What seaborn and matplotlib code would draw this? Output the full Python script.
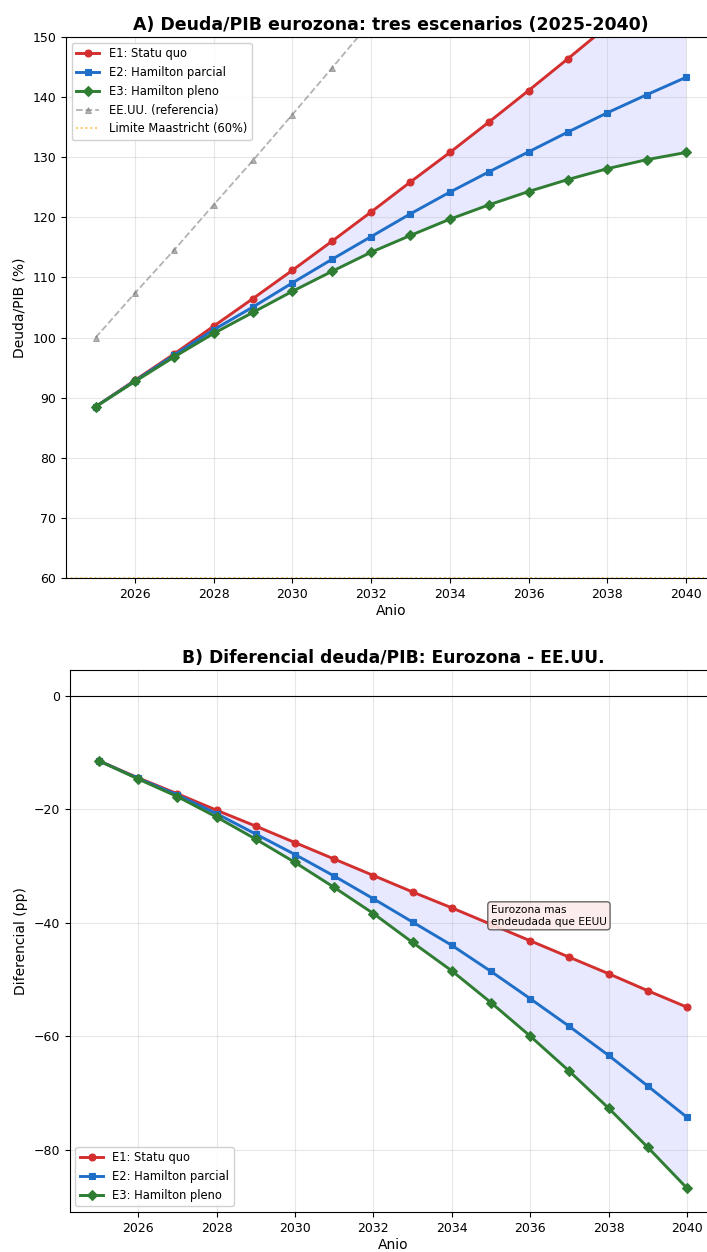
import matplotlib
matplotlib.use("Agg")
import matplotlib.pyplot as plt
import numpy as np
import pandas as pd
import seaborn as sns

# datos
anios = list(range(2025, 2041))
e1_statu_quo = [88.5, 92.9, 97.3, 101.9, 106.5, 111.2, 116.0, 120.9, 125.9, 130.8,
                135.9, 141.1, 146.4, 151.8, 157.2, 162.7]
e2_hamilton_parcial = [88.5, 92.8, 97.1, 101.3, 105.1, 109.1, 113.0, 116.8, 120.6, 124.2,
                       127.6, 130.9, 134.2, 137.4, 140.4, 143.3]
e3_hamilton_pleno = [88.5, 92.7, 96.8, 100.7, 104.2, 107.7, 111.0, 114.2, 117.0, 119.7,
                     122.1, 124.3, 126.3, 128.1, 129.6, 130.8]
eeuu_ref = [100.0, 107.4, 114.6, 122.1, 129.5, 137.1, 144.8, 152.6, 160.5, 168.2,
            176.2, 184.3, 192.5, 200.8, 209.2, 217.6]
limite_maastricht = 60

escenarios = ["E1: Statu quo", "E2: Hamilton parcial", "E3: Hamilton pleno"]
colores = ["#d32f2f", "#1f6fc8", "#2e7d32"]
marcadores = ["o", "s", "D"]

df = pd.DataFrame({"anio": anios, "E1": e1_statu_quo, "E2": e2_hamilton_parcial,
                   "E3": e3_hamilton_pleno, "EEUU": eeuu_ref})
for k in ["E1", "E2", "E3"]:
    df["d" + k] = df[k] - df["EEUU"]

plt.rcParams["font.family"] = "DejaVu Sans"

fig = plt.figure(figsize=(7.07, 12.52), dpi=100)
ax1 = fig.add_axes([0.0934, 0.5383, 0.9187, 0.4321])
ax2 = fig.add_axes([0.0985, 0.0319, 0.9148, 0.4329])

# --- Panel A
for k, lab, c, m in zip(["E1", "E2", "E3"], escenarios, colores, marcadores):
    sns.lineplot(data=df, x="anio", y=k, ax=ax1, color=c, marker=m, lw=2.1, ms=5,
                 mec=c, mew=0.8, label=lab)
sns.lineplot(data=df, x="anio", y="EEUU", ax=ax1, color="gray", ls="--", marker="^",
             lw=1.3, ms=4, mec="gray", alpha=0.6, label="EE.UU. (referencia)")
ax1.axhline(limite_maastricht, color="orange", ls=":", lw=1.3, alpha=0.7,
            label="Limite Maastricht (60%)")
ax1.fill_between(df["anio"], df["E3"], df["E1"], color="blue", alpha=0.09, lw=0)
ax1.set_ylim(60, 150)
ax1.set_xlim(2024.25, 2040.75)
ax1.set_xticks(range(2026, 2041, 2))
ax1.set_title("A) Deuda/PIB eurozona: tres escenarios (2025-2040)", fontsize=12.5,
              fontweight="bold", pad=5)
ax1.set_xlabel("Anio", fontsize=10, labelpad=2)
ax1.set_ylabel("Deuda/PIB (%)", fontsize=10)
ax1.grid(True, alpha=0.3)
ax1.legend(loc="upper left", fontsize=8.3, framealpha=0.9)

# --- Panel B
for k, lab, c, m in zip(["dE1", "dE2", "dE3"], escenarios, colores, marcadores):
    sns.lineplot(data=df, x="anio", y=k, ax=ax2, color=c, marker=m, lw=2.1, ms=5,
                 mec=c, mew=0.8, label=lab)
ax2.axhline(0, color="black", lw=0.8)
ax2.fill_between(df["anio"], df["dE3"], df["dE1"], color="blue", alpha=0.09, lw=0)
ax2.text(2035, -38.8, "Eurozona mas\nendeudada que EEUU", fontsize=7.7, va="center",
         bbox=dict(boxstyle="round,pad=0.3", facecolor="#fdeaea", edgecolor="#555555",
                   alpha=0.9))
ax2.set_ylim(-91, 4.5)
ax2.set_xlim(2024.25, 2040.75)
ax2.set_xticks(range(2026, 2041, 2))
ax2.set_title("B) Diferencial deuda/PIB: Eurozona - EE.UU.", fontsize=12.3,
              fontweight="bold", pad=5)
ax2.set_xlabel("Anio", fontsize=10, labelpad=2)
ax2.set_ylabel("Diferencial (pp)", fontsize=10)
ax2.grid(True, alpha=0.3)
ax2.legend(loc="lower left", fontsize=8.3, framealpha=0.9)

for ax in (ax1, ax2):
    ax.tick_params(labelsize=9)

fig.savefig("out.png", dpi=100)
